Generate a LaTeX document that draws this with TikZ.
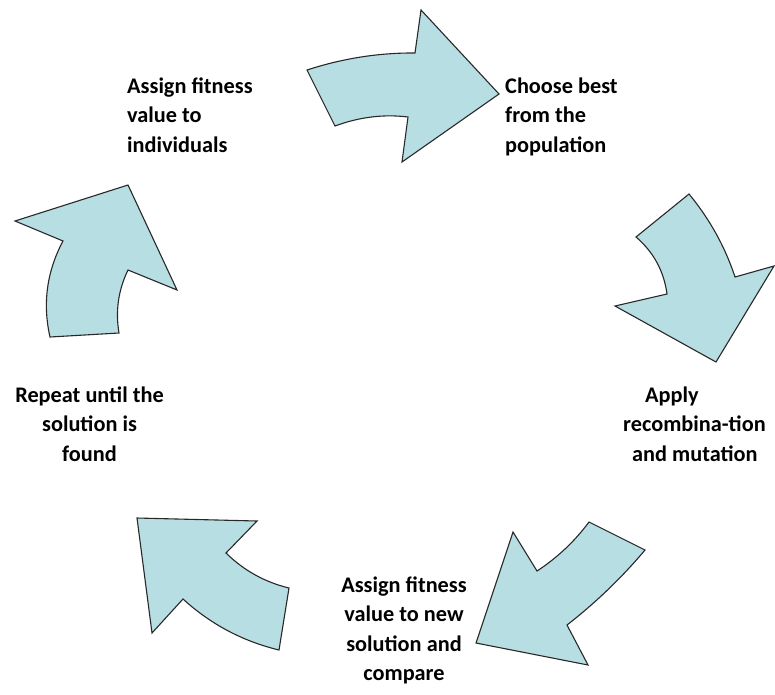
\documentclass[tikz,border=0pt]{standalone}
\usepackage{fontspec}
\setmainfont{Carlito}
\begin{document}
\begin{tikzpicture}[x=1pt,y=-1pt,
  cyc/.style={fill=arrowfill,draw=arrowline,line width=1.1pt,line join=miter},
  lbl/.style={inner sep=0pt,font=\fontsize{22.3}{29.5}\selectfont\bfseries,text=black}]
\definecolor{arrowfill}{RGB}{183,222,226}
\definecolor{arrowline}{RGB}{40,40,40}
\useasboundingbox (0,0) rectangle (775,694);
% arrows
\draw[cyc] (307,70) .. controls (343,58.3) and (379,52.7) .. (415,53) -- (421,10) -- (499,94) -- (402,162) -- (408,117) .. controls (383.7,114) and (359.3,117) .. (335,126) -- cycle;
\draw[cyc] (636,237) -- (689,194) .. controls (709.6,219) and (725,246.6) .. (735,277) -- (774,266) -- (716,362) -- (615,306) -- (667,294) .. controls (663.9,271) and (653.5,252) .. (636,237) -- cycle;
\draw[cyc] (589,522) -- (645,550) .. controls (621.7,577.7) and (595.7,602.7) .. (567,625) -- (588,665) -- (476,643) -- (513,532) -- (537,571) .. controls (557.3,557.7) and (574.7,541.3) .. (589,522) -- cycle;
\draw[cyc] (137,518) -- (257,521) -- (226,553) .. controls (243.8,570.5) and (264.8,582.1) .. (289,588) -- (279,650) .. controls (242.6,641.2) and (210.6,624.2) .. (183,599) -- (152,633) -- cycle;
\draw[cyc] (50,337) -- (119,333) .. controls (115.3,311) and (118.3,290) .. (128,270) -- (177,290) -- (128,185) -- (15,221) -- (63,241) .. controls (46.8,271.4) and (42.4,303.4) .. (50,337) -- cycle;
% labels
\node[lbl,anchor=base west] (a1) at (127,93) {Assign fitness};
\node[lbl,anchor=base west] (a2) at (127,122.5) {value to};
\node[lbl,anchor=base west] (a3) at (127,152) {individuals};
\node[lbl,anchor=base west] (b1) at (505,93) {Choose best};
\node[lbl,anchor=base west] (b2) at (505,122.5) {from the};
\node[lbl,anchor=base west] (b3) at (505,152) {population};
\node[lbl,anchor=base west] (c1) at (645,402) {Apply};
\node[lbl,anchor=base west] (c2) at (623,431.5) {recombina-tion};
\node[lbl,anchor=base west] (c3) at (632,461) {and mutation};
\node[lbl,anchor=base] (d1) at (404,592) {Assign fitness};
\node[lbl,anchor=base] (d2) at (404,621.5) {value to new};
\node[lbl,anchor=base] (d3) at (404,651) {solution and};
\node[lbl,anchor=base] (d4) at (404,680.5) {compare};
\node[lbl,anchor=base] (e1) at (89.5,402) {Repeat until the};
\node[lbl,anchor=base] (e2) at (89.5,431.5) {solution is};
\node[lbl,anchor=base] (e3) at (89.5,461) {found};
\end{tikzpicture}
\end{document}
